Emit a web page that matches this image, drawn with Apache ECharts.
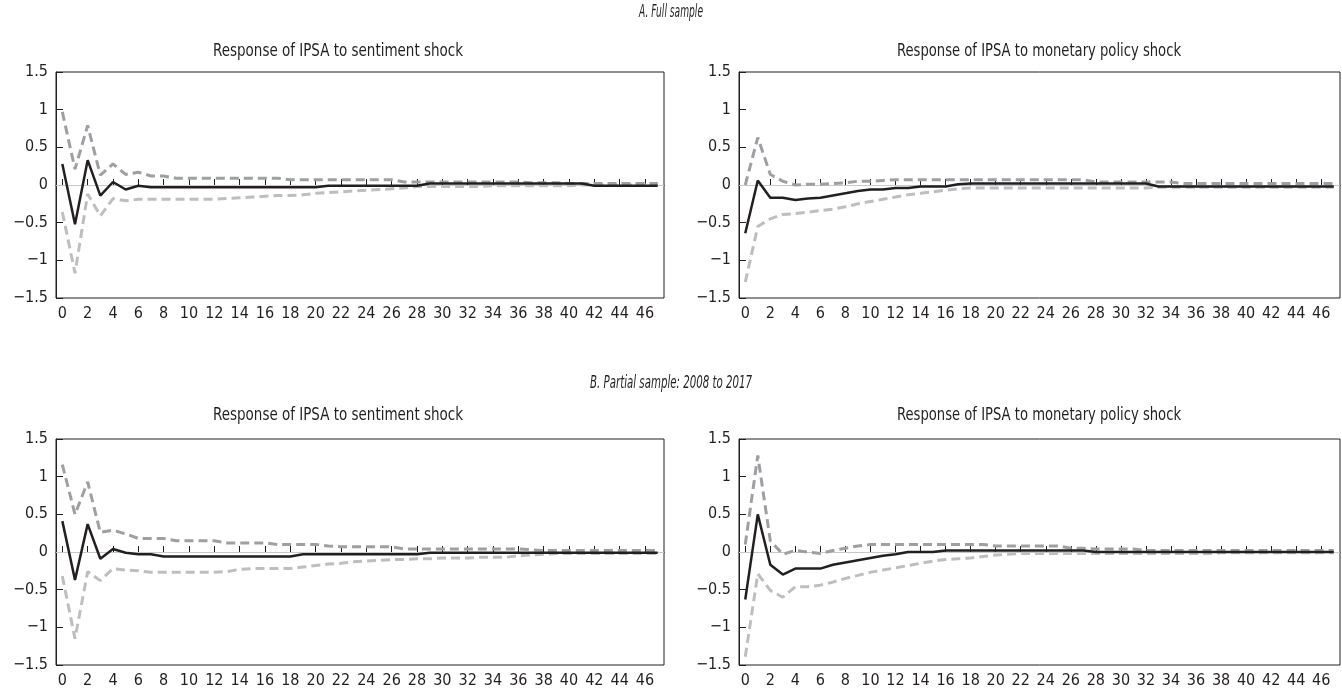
<!DOCTYPE html>
<html>
<head>
<meta charset="utf-8">
<script src="https://cdn.jsdelivr.net/npm/echarts@6/dist/echarts.min.js"></script>
<style>
html,body{margin:0;padding:0;background:#fff;}
#chart{width:1342px;height:696px;}
</style>
</head>
<body>
<div id="chart"></div>
<script>
// Horizons 0..47
const periods = Array.from({length: 48}, (_, i) => String(i));

// A. Full sample — sentiment shock
const aSentIRF = [0.28,-0.52,0.33,-0.14,0.04,-0.06,-0.01,-0.03,-0.03,-0.03,-0.03,-0.03,-0.03,-0.03,-0.03,-0.03,-0.03,-0.03,-0.03,-0.03,-0.03,-0.01,-0.01,-0.01,-0.01,-0.01,-0.01,-0.01,-0.01,0.02,0.02,0.02,0.02,0.02,0.02,0.02,0.02,0.02,0.02,0.02,0.02,0.02,-0.01,-0.01,-0.01,-0.01,-0.01,-0.01];
const aSentUpper = [0.97,0.21,0.79,0.13,0.28,0.14,0.17,0.12,0.12,0.09,0.09,0.09,0.09,0.09,0.09,0.09,0.09,0.09,0.07,0.07,0.07,0.07,0.07,0.07,0.07,0.07,0.07,0.04,0.04,0.04,0.04,0.04,0.04,0.04,0.04,0.04,0.04,0.03,0.03,0.03,0.02,0.02,0.02,0.02,0.02,0.02,0.02,0.02];
const aSentLower = [-0.36,-1.17,-0.12,-0.41,-0.18,-0.21,-0.19,-0.19,-0.19,-0.19,-0.19,-0.19,-0.19,-0.18,-0.17,-0.16,-0.15,-0.14,-0.14,-0.13,-0.11,-0.10,-0.09,-0.08,-0.07,-0.06,-0.05,-0.04,-0.02,-0.02,-0.02,-0.02,-0.02,-0.02,-0.01,-0.01,-0.01,-0.01,-0.01,-0.01,-0.01,0.0,0.0,0.0,0.0,0.0,0.0,0.0];

// A. Full sample — monetary policy shock
const aMonIRF = [-0.64,0.06,-0.17,-0.17,-0.20,-0.18,-0.17,-0.14,-0.11,-0.08,-0.06,-0.06,-0.04,-0.04,-0.02,-0.02,-0.02,0.01,0.02,0.02,0.02,0.02,0.02,0.02,0.02,0.02,0.02,0.02,0.02,0.02,0.02,0.02,0.02,-0.02,-0.02,-0.02,-0.02,-0.02,-0.02,-0.02,-0.02,-0.02,-0.02,-0.02,-0.02,-0.02,-0.02,-0.02];
const aMonUpper = [0.0,0.63,0.14,0.05,0.0,0.01,0.01,0.02,0.03,0.05,0.05,0.06,0.07,0.07,0.07,0.07,0.07,0.07,0.07,0.07,0.07,0.07,0.07,0.07,0.07,0.07,0.07,0.07,0.04,0.04,0.04,0.04,0.04,0.04,0.04,0.02,0.02,0.02,0.02,0.02,0.02,0.02,0.02,0.02,0.02,0.02,0.02,0.02];
const aMonLower = [-1.29,-0.55,-0.45,-0.39,-0.38,-0.36,-0.34,-0.32,-0.29,-0.25,-0.22,-0.19,-0.16,-0.13,-0.11,-0.09,-0.07,-0.05,-0.04,-0.04,-0.04,-0.04,-0.04,-0.04,-0.04,-0.04,-0.04,-0.04,-0.04,-0.04,-0.04,-0.04,-0.04,-0.03,-0.03,-0.03,-0.03,-0.03,-0.03,-0.03,-0.03,-0.03,-0.03,-0.03,-0.03,-0.03,-0.03,-0.03];

// B. Partial sample 2008-2017 — sentiment shock
const bSentIRF = [0.41,-0.37,0.37,-0.09,0.04,-0.01,-0.03,-0.03,-0.06,-0.06,-0.06,-0.06,-0.06,-0.06,-0.06,-0.06,-0.06,-0.06,-0.06,-0.03,-0.03,-0.03,-0.03,-0.03,-0.03,-0.03,-0.03,-0.03,-0.03,-0.01,-0.01,-0.01,-0.01,-0.01,-0.01,-0.01,-0.01,-0.01,-0.01,-0.01,-0.01,-0.01,-0.01,-0.01,-0.01,-0.01,-0.01,-0.01];
const bSentUpper = [1.16,0.50,0.93,0.26,0.29,0.24,0.18,0.18,0.18,0.15,0.15,0.15,0.15,0.12,0.12,0.12,0.12,0.10,0.10,0.10,0.10,0.08,0.07,0.07,0.07,0.07,0.07,0.04,0.04,0.04,0.04,0.04,0.04,0.04,0.04,0.04,0.04,0.03,0.02,0.02,0.02,0.02,0.02,0.02,0.02,0.02,0.02,0.02];
const bSentLower = [-0.32,-1.15,-0.26,-0.38,-0.22,-0.24,-0.25,-0.27,-0.27,-0.27,-0.27,-0.27,-0.27,-0.26,-0.23,-0.22,-0.22,-0.22,-0.22,-0.20,-0.18,-0.16,-0.15,-0.13,-0.12,-0.11,-0.10,-0.10,-0.09,-0.09,-0.08,-0.08,-0.08,-0.07,-0.07,-0.07,-0.05,-0.04,-0.03,-0.02,-0.02,-0.02,-0.02,-0.02,-0.02,-0.02,-0.02,-0.02];

// B. Partial sample 2008-2017 — monetary policy shock
const bMonIRF = [-0.63,0.50,-0.17,-0.30,-0.22,-0.22,-0.22,-0.17,-0.14,-0.11,-0.08,-0.05,-0.03,0.0,0.0,0.0,0.02,0.02,0.02,0.02,0.02,0.02,0.02,0.02,0.02,0.02,0.02,0.02,0.0,0.0,0.0,0.0,0.0,0.0,0.0,0.0,0.0,0.0,0.0,0.0,0.0,0.0,0.0,0.0,0.0,0.0,0.0,0.0];
const bMonUpper = [0.10,1.28,0.15,-0.03,0.02,0.0,-0.02,0.02,0.05,0.08,0.10,0.10,0.10,0.10,0.10,0.10,0.10,0.10,0.10,0.10,0.08,0.08,0.08,0.08,0.08,0.08,0.05,0.05,0.04,0.04,0.04,0.04,0.02,0.02,0.02,0.02,0.02,0.02,0.02,0.02,0.02,0.02,0.02,0.02,0.02,0.02,0.02,0.02];
const bMonLower = [-1.39,-0.29,-0.51,-0.60,-0.46,-0.46,-0.44,-0.40,-0.35,-0.31,-0.27,-0.24,-0.21,-0.18,-0.15,-0.12,-0.10,-0.09,-0.08,-0.06,-0.04,-0.03,-0.02,-0.02,-0.02,-0.02,-0.02,-0.02,-0.02,-0.02,-0.02,-0.02,-0.02,-0.02,-0.02,-0.02,-0.02,-0.02,-0.01,-0.01,-0.01,-0.01,-0.01,-0.01,-0.01,-0.01,-0.01,-0.01];

const panelTitles = ['Response of IPSA to sentiment shock','Response of IPSA to monetary policy shock'];
const sectionTitles = ['A. Full sample','B. Partial sample: 2008 to 2017'];

// pick the narrowest installed sans family
const ctx = document.createElement('canvas').getContext('2d');
function hasFont(name){
  const s = 'Response of IPSA 0123456789';
  ctx.font = '20px monospace'; const a = ctx.measureText(s).width;
  ctx.font = '20px "' + name + '", monospace'; const b = ctx.measureText(s).width;
  ctx.font = '20px serif'; const c = ctx.measureText(s).width;
  ctx.font = '20px "' + name + '", serif'; const d = ctx.measureText(s).width;
  return a !== b || c !== d;
}
const candidates = ['Liberation Sans Narrow','DejaVu Sans Condensed','Open Sans','Liberation Sans'];
const picked = candidates.find(hasFont) || 'sans-serif';
const FONT = '"' + picked + '", sans-serif';
const INK = '#231f20';

const panels = [
  {irf:aSentIRF, up:aSentUpper, lo:aSentLower, grid:{left:56, top:72, width:608, height:226}},
  {irf:aMonIRF,  up:aMonUpper,  lo:aMonLower,  grid:{left:739, top:72, width:601, height:226}},
  {irf:bSentIRF, up:bSentUpper, lo:bSentLower, grid:{left:56, top:439, width:608, height:226}},
  {irf:bMonIRF,  up:bMonUpper,  lo:bMonLower,  grid:{left:739, top:439, width:601, height:226}}
];
const labelSize = picked === 'Liberation Sans Narrow' ? 17 : 16;

const grids=[], xAxes=[], yAxes=[], series=[];
panels.forEach((p, k) => {
  grids.push(Object.assign({show:true, borderColor:INK, borderWidth:1, backgroundColor:'transparent'}, p.grid));
  xAxes.push({
    type:'category', gridIndex:k, data:periods, boundaryGap:true,
    axisLine:{show:true, lineStyle:{color:INK, width:1}},
    axisTick:{show:true, inside:true, length:6, alignWithLabel:true, interval:1, lineStyle:{color:INK}},
    axisLabel:{interval:1, color:INK, fontFamily:FONT, fontSize:labelSize, margin:8},
    splitLine:{show:false}
  });
  yAxes.push({
    type:'value', gridIndex:k, min:-1.5, max:1.5, interval:0.5,
    axisLine:{show:true, lineStyle:{color:INK, width:1}},
    axisTick:{show:true, inside:true, length:7, lineStyle:{color:INK}},
    axisLabel:{color:INK, fontFamily:FONT, fontSize:labelSize, margin:8,
      formatter: v => (v < 0 ? '\u2212' + String(Math.abs(v)) : String(v))},
    splitLine:{show:false}
  });
  series.push({
    type:'line', xAxisIndex:k, yAxisIndex:k, data:p.lo, symbol:'none', silent:true,
    lineStyle:{color:'#bcbec0', width:3, type:[9,5]}, z:2,
    markLine:{silent:true, symbol:'none', label:{show:false},
      lineStyle:{color:'#c8c8c8', width:1.2, type:'solid'}, data:[{yAxis:0}], z:1}
  });
  series.push({
    type:'line', xAxisIndex:k, yAxisIndex:k, data:p.up, symbol:'none', silent:true,
    lineStyle:{color:'#9d9fa2', width:3, type:[9,5]}, z:3
  });
  series.push({
    type:'line', xAxisIndex:k, yAxisIndex:k, data:p.irf, symbol:'none', silent:true,
    lineStyle:{color:INK, width:2.5}, z:4
  });
});

// text fitted to the printed widths of the reference headings
function textEl(txt, x, y, italic, targetW, size){
  const font = (italic ? 'italic ' : '') + size + 'px ' + FONT;
  ctx.font = font;
  const w = ctx.measureText(txt).width;
  const sx = Math.min(1, targetW / w);
  return {type:'text', x:x, y:y, scaleX:sx,
    style:{text:txt, fill:INK, font:font, textAlign:'center', textVerticalAlign:'middle'}};
}

const chart = echarts.init(document.getElementById('chart'), null, {renderer:'canvas'});
chart.setOption({
  animation:false,
  backgroundColor:'#fff',
  grid:grids, xAxis:xAxes, yAxis:yAxes, series:series,
  graphic:[
    textEl(sectionTitles[0], 671, 12, true, 64, 18),
    textEl(panelTitles[0], 338, 52, false, 250, 17),
    textEl(panelTitles[1], 1039, 52, false, 284, 17),
    textEl(sectionTitles[1], 671, 383, true, 162, 18),
    textEl(panelTitles[0], 338, 416, false, 250, 17),
    textEl(panelTitles[1], 1039, 416, false, 284, 17)
  ]
});
</script>
</body>
</html>
